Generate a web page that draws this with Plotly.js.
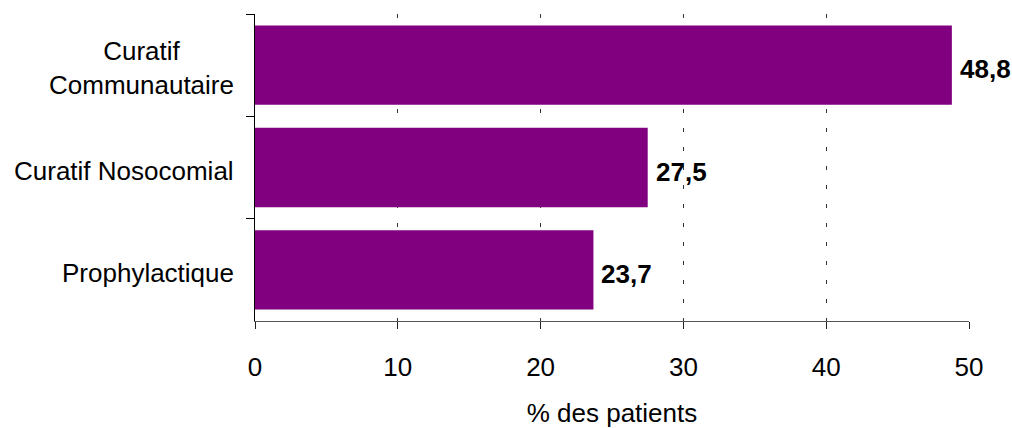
<!DOCTYPE html>
<html>
<head>
<meta charset="utf-8">
<script src="https://cdn.plot.ly/plotly-3.0.1.min.js"></script>
<style>
  html, body { margin: 0; padding: 0; background: #fff; }
  #chart { width: 1012px; height: 428px; }
</style>
</head>
<body>
<div id="chart"></div>
<script>
// Data
const categories = ["Curatif<br>Communautaire", "Curatif Nosocomial", "Prophylactique"];
const values = [48.8, 27.5, 23.7];
const xTickValues = [0, 10, 20, 30, 40, 50];
const xTickLabels = ["0", "10", "20", "30", "40", "50"];
const xAxisTitle = "% des patients";

const FONT = "'Liberation Sans', Arial, sans-serif";
const BAR_COLOR = "#800080";

const valueLabels = values.map(v => v.toFixed(1).replace('.', ','));

const trace = {
  type: 'bar',
  orientation: 'h',
  x: values,
  y: categories,
  marker: { color: BAR_COLOR, line: { width: 0 } },
  hoverinfo: 'none'
};

const annotations = [];
categories.forEach((c, i) => {
  annotations.push({
    xref: 'paper', yref: 'y',
    x: 0, y: c,
    xanchor: 'right', yanchor: 'middle',
    xshift: -19, yshift: -3,
    align: 'center',
    text: c,
    showarrow: false,
    font: { family: FONT, size: 26, color: '#000' }
  });
  annotations.push({
    xref: 'x', yref: 'y',
    x: values[i], y: c,
    xanchor: 'left', yanchor: 'middle',
    xshift: 6, yshift: -4,
    text: '<b>' + valueLabels[i] + '</b>',
    showarrow: false,
    font: { family: FONT, size: 26, color: '#000' }
  });
});

const layout = {
  width: 1012,
  height: 428,
  margin: { l: 255, r: 43, t: 14, b: 107, pad: 0 },
  paper_bgcolor: '#fff',
  plot_bgcolor: '#fff',
  showlegend: false,
  bargap: 0.225,
  font: { family: FONT, size: 26, color: '#000' },
  xaxis: {
    range: [0, 50],
    tickvals: xTickValues,
    ticktext: xTickLabels,
    ticks: 'outside',
    ticklen: 7,
    tickwidth: 1,
    tickcolor: '#222',
    ticklabelstandoff: 16,
    tickfont: { family: FONT, size: 26, color: '#000' },
    showline: true,
    linecolor: '#555',
    linewidth: 1,
    showgrid: true,
    gridcolor: '#333',
    gridwidth: 1,
    griddash: '4px,15px',
    zeroline: false,
    fixedrange: true,
    title: { text: xAxisTitle, font: { family: FONT, size: 26, color: '#000' }, standoff: 23 }
  },
  yaxis: {
    type: 'category',
    autorange: 'reversed',
    showticklabels: false,
    ticks: 'outside',
    ticklen: 8,
    tickwidth: 1,
    tickcolor: '#000',
    tickson: 'boundaries',
    showline: true,
    linecolor: '#000',
    linewidth: 1,
    showgrid: false,
    zeroline: false,
    fixedrange: true
  },
  annotations: annotations
};

Plotly.newPlot('chart', [trace], layout, { displayModeBar: false, staticPlot: true });
</script>
</body>
</html>
